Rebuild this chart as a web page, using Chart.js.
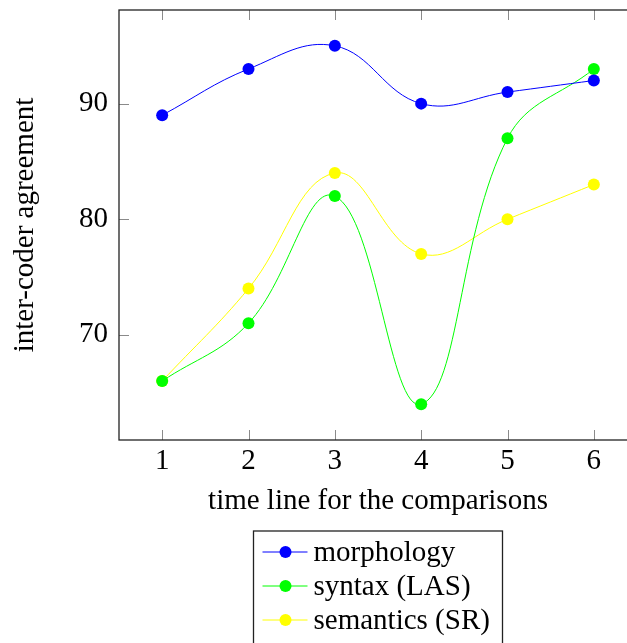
<!DOCTYPE html>
<html>
<head>
<meta charset="utf-8">
<script src="https://cdn.jsdelivr.net/npm/chart.js@4"></script>
<style>
  html, body { margin: 0; padding: 0; background: #fff; overflow: hidden; width: 627px; height: 643px; }
  #wrap { width: 627px; height: 643px; overflow: hidden; position: relative; }
  #c { display: block; position: absolute; left: 0; top: 0; width: 643px; height: 643px; max-width: none; }
</style>
</head>
<body>
<div id="wrap"><canvas id="c" width="643" height="643" style="width:643px;height:643px"></canvas></div>
<script>
// ---- data ----
const timePoints = [1, 2, 3, 4, 5, 6];
const morphology = [89, 93, 95, 90, 91, 92];
const syntaxLAS = [66, 71, 82, 64, 87, 93];
const semanticsSR = [66, 74, 84, 77, 80, 83];
const seriesNames = ['morphology', 'syntax (LAS)', 'semantics (SR)'];
const seriesColors = ['#0000ff', '#00ff00', '#ffff00'];
const yTickValues = [70, 80, 90];
const xTickValues = [1, 2, 3, 4, 5, 6];

const FONT = 'Liberation Serif, "Times New Roman", serif';
const FS = 29;

function toPoints(vals) { return timePoints.map((x, i) => ({ x: x, y: vals[i] })); }

const datasets = [morphology, syntaxLAS, semanticsSR].map((vals, i) => ({
  label: seriesNames[i],
  data: toPoints(vals),
  borderColor: seriesColors[i],
  backgroundColor: seriesColors[i],
  pointBackgroundColor: seriesColors[i],
  pointBorderWidth: 0,
  pointRadius: 6,
  borderWidth: 1,
  tension: 0.4,
  fill: false
}));

const frame = {
  id: 'frame',
  afterDatasetsDraw(chart) {
    const ctx = chart.ctx, a = chart.chartArea;
    const xs = chart.scales.x, ys = chart.scales.y;
    ctx.save();
    ctx.strokeStyle = '#8a8a8a';
    ctx.lineWidth = 1;
    ctx.beginPath();
    xTickValues.forEach(v => {
      const px = Math.round(xs.getPixelForValue(v)) + 0.5;
      ctx.moveTo(px, a.bottom); ctx.lineTo(px, a.bottom - 10);
      ctx.moveTo(px, a.top); ctx.lineTo(px, a.top + 10);
    });
    yTickValues.forEach(v => {
      const py = Math.round(ys.getPixelForValue(v)) + 0.5;
      ctx.moveTo(a.left, py); ctx.lineTo(a.left + 10, py);
      ctx.moveTo(a.right, py); ctx.lineTo(a.right - 10, py);
    });
    ctx.stroke();
    ctx.strokeStyle = '#222';
    ctx.lineWidth = 1.3;
    ctx.strokeRect(a.left, a.top, a.right - a.left, a.bottom - a.top);
    ctx.restore();
  },
  afterDraw(chart) {
    const ctx = chart.ctx, a = chart.chartArea;
    const cx = (a.left + a.right) / 2;
    const w = 249, left = cx - w / 2, top = 531, rowH = 34, firstRow = 552;
    ctx.save();
    ctx.fillStyle = '#fff';
    ctx.fillRect(left, top, w, 140);
    ctx.strokeStyle = '#222';
    ctx.lineWidth = 1.3;
    ctx.strokeRect(left, top, w, 140);
    chart.data.datasets.forEach((ds, i) => {
      const y = firstRow + i * rowH;
      ctx.strokeStyle = ds.borderColor;
      ctx.lineWidth = 1;
      ctx.beginPath();
      ctx.moveTo(left + 9, y); ctx.lineTo(left + 54, y);
      ctx.stroke();
      ctx.fillStyle = ds.borderColor;
      ctx.beginPath();
      ctx.arc(left + 32, y, 6, 0, Math.PI * 2);
      ctx.fill();
      ctx.fillStyle = '#000';
      ctx.font = FS + 'px ' + FONT;
      ctx.textBaseline = 'middle';
      ctx.textAlign = 'left';
      ctx.fillText(ds.label, left + 60, y + 1);
    });
    ctx.restore();
  }
};

function noPad(s) { s.paddingTop = 0; s.paddingBottom = 0; s.paddingLeft = 0; s.paddingRight = 0; }

new Chart(document.getElementById('c'), {
  type: 'line',
  data: { datasets: datasets },
  options: {
    responsive: false,
    animation: false,
    devicePixelRatio: 1,
    layout: { padding: { top: 10, right: 0, bottom: 123, left: 0 } },
    plugins: { legend: { display: false }, tooltip: { enabled: false } },
    scales: {
      x: {
        type: 'linear',
        min: 0.5, max: 6.5,
        afterBuildTicks: s => { s.ticks = xTickValues.map(v => ({ value: v })); },
        afterFit: s => { s.height = 80; noPad(s); },
        grid: { display: false, drawTicks: false },
        border: { display: false },
        ticks: { color: '#000', font: { family: FONT, size: FS }, padding: 4, maxRotation: 0 },
        title: { display: true, text: 'time line for the comparisons', color: '#000', font: { family: FONT, size: FS }, padding: { top: 0, bottom: 1 } }
      },
      y: {
        min: 60.9, max: 98.1,
        afterBuildTicks: s => { s.ticks = yTickValues.map(v => ({ value: v })); },
        afterFit: s => { s.width = 119; noPad(s); },
        grid: { display: false, drawTicks: false },
        border: { display: false },
        ticks: { color: '#000', font: { family: FONT, size: FS }, padding: 11 },
        title: { display: true, text: 'inter-coder agreement', color: '#000', font: { family: FONT, size: FS }, padding: { top: 8, bottom: 0 } }
      }
    }
  },
  plugins: [frame]
});
</script>
</body>
</html>
